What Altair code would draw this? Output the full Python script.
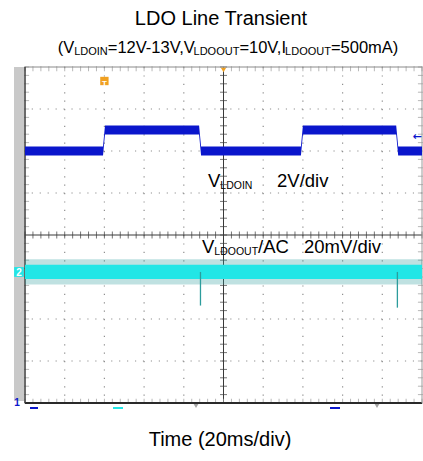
import altair as alt
import pandas as pd

# ---------------- data ----------------
# CH1: LDO input voltage (V) - vertices of the stepped 12 V / 13 V waveform
ch1_time_ms = [-100.0, -60.7, -59.7, -12.3, -11.3, 39.0, 40.0, 87.0, 88.0, 100.0]
ch1_volts = [12.0, 12.0, 13.0, 13.0, 12.0, 12.0, 13.0, 13.0, 12.0, 12.0]
ch1_noise_v = 0.22          # half-width of the noise band on CH1

# CH2: LDO output, AC coupled (mV)
ch2_time_ms = [-100.0, 100.0]
ch2_mv = [0.0, 0.0]
ch2_core_mv = 3.4           # dense part of the noise band
ch2_peak_mv = 6.0           # outer noise peaks
ch2_dip_time_ms = [-11.6, 87.6]
ch2_dip_mv = [-16.0, -17.0]

# scope settings
ch1_v_per_div = 2.0
ch1_offset_div = -4.0
ch2_mv_per_div = 20.0
ch2_offset_div = -0.88
trigger_time_ms = -60.0
trigger_level_v = 12.65

# ---------------- layout ----------------
FONT = "Liberation Sans"
LEFT, TOP, W, H = 25, 67, 397, 336
PAD = {"left": LEFT, "top": TOP, "right": 423 - LEFT - W, "bottom": 461 - TOP - H}

BLUE = "#0a16cc"
CYAN = "#22e6e6"
TEAL = "#2c9c9c"
ORANGE = "#f0a020"
GRID = "#8f8f8f"

xs = alt.Scale(domain=[-100, 100], nice=False, zero=False)
ys = alt.Scale(domain=[-4, 4], nice=False, zero=False)
one = pd.DataFrame({"k": [0]})


def X(f="t"):
    return alt.X(f"{f}:Q", scale=xs, axis=None)


def Y(f="d"):
    return alt.Y(f"{f}:Q", scale=ys, axis=None)


def ch1_div(v):
    return v / ch1_v_per_div + ch1_offset_div


def ch2_div(mv):
    return mv / ch2_mv_per_div + ch2_offset_div


# Liberation Sans advance widths (em) and kerning pairs for the label characters
ADV = {
    "A": .667, "C": .722, "D": .722, "I": .278, "L": .556, "N": .722, "O": .778,
    "T": .611, "U": .722, "V": .667, "a": .556, "d": .556, "e": .556, "i": .222,
    "m": .833, "n": .556, "r": .333, "s": .5, "t": .278, "v": .5, "(": .333,
    ")": .333, "=": .584, "-": .333, ",": .278, "/": .278, " ": .278,
}
KERN = {"V,": -.148, "V-": -.074, "11": -.074}


def tw(s, size):
    w = sum(ADV.get(c, .556) for c in s)
    w += sum(KERN.get(s[i:i + 2], 0) for i in range(len(s) - 1))
    return w * size


def text(s, px, py, size, color="#000000", align="left", font=FONT, weight="normal"):
    """Text placed in page pixel coordinates."""
    return alt.Chart(one).mark_text(
        align=align, baseline="alphabetic", font=font, fontSize=size,
        color=color, fontWeight=weight,
    ).encode(x=alt.value(px - LEFT), y=alt.value(py - TOP), text=alt.value(s))


def rich(parts, px, py, main, sub, center=False, sub_drop=1.5):
    """Runs of normal and subscript text, left aligned or centred on px."""
    widths = [tw(s, sub if is_sub else main) for s, is_sub in parts]
    x = px - sum(widths) / 2 if center else px
    out = []
    for (s, is_sub), w in zip(parts, widths):
        out.append(text(s, x, py + (sub_drop if is_sub else 0), sub if is_sub else main))
        x += w
    return out


def box(x1, y1, x2, y2, color, radius=0):
    return alt.Chart(one).mark_rect(color=color, cornerRadius=radius).encode(
        x=alt.value(x1 - LEFT), x2=alt.value(x2 - LEFT),
        y=alt.value(y1 - TOP), y2=alt.value(y2 - TOP))


def seg(x1, y1, x2, y2, color, width=1.0):
    return alt.Chart(one).mark_rule(color=color, strokeWidth=width).encode(
        x=alt.value(x1 - LEFT), x2=alt.value(x2 - LEFT),
        y=alt.value(y1 - TOP), y2=alt.value(y2 - TOP))


def glyph(shape, px, py, size, color):
    return alt.Chart(one).mark_point(shape=shape, filled=True, size=size, color=color, opacity=1).encode(
        x=alt.value(px - LEFT), y=alt.value(py - TOP))


# ---------------- graticule ----------------
layers = []
layers.append(box(14, 67, 24, 401, "#c9c9c9"))

v_grid = pd.DataFrame({"t": [-80, -60, -40, -20, 20, 40, 60, 80]})
h_grid = pd.DataFrame({"d": [-3, -2, -1, 1, 2, 3]})
layers.append(alt.Chart(v_grid).mark_rule(color=GRID, strokeWidth=1.2, strokeDash=[1.2, 7.2]).encode(x=X()))
layers.append(alt.Chart(h_grid).mark_rule(color=GRID, strokeWidth=1.2, strokeDash=[1.2, 6.74]).encode(y=Y()))

minor_t = pd.DataFrame({"t": [i * 4.0 for i in range(-25, 26)]})
minor_d = pd.DataFrame({"d": [i * 0.2 for i in range(-20, 21)]})
layers.append(alt.Chart(pd.DataFrame({"t": [0]})).mark_rule(color="#3a3a3a", strokeWidth=1).encode(x=X()))
layers.append(alt.Chart(pd.DataFrame({"d": [0]})).mark_rule(color="#3a3a3a", strokeWidth=1).encode(y=Y()))
layers.append(alt.Chart(minor_t.assign(d=0.0)).mark_tick(orient="vertical", size=7, thickness=1, color="#3a3a3a").encode(x=X(), y=Y()))
layers.append(alt.Chart(minor_d.assign(t=0.0)).mark_tick(orient="horizontal", size=7, thickness=1, color="#3a3a3a").encode(x=X(), y=Y()))
# border ticks
layers.append(alt.Chart(minor_t.assign(d=3.96)).mark_tick(orient="vertical", size=5, thickness=1, color="#9a9a9a").encode(x=X(), y=Y()))
layers.append(alt.Chart(minor_t.assign(d=-3.96)).mark_tick(orient="vertical", size=5, thickness=1, color="#9a9a9a").encode(x=X(), y=Y()))
layers.append(alt.Chart(minor_d.assign(t=-99.2)).mark_tick(orient="horizontal", size=5, thickness=1, color="#9a9a9a").encode(x=X(), y=Y()))
layers.append(alt.Chart(minor_d.assign(t=99.2)).mark_tick(orient="horizontal", size=5, thickness=1, color="#9a9a9a").encode(x=X(), y=Y()))
# frame
layers.append(alt.Chart(pd.DataFrame({"d": [4]})).mark_rule(color="#8a8a8a", strokeWidth=1).encode(y=Y()))
layers.append(alt.Chart(pd.DataFrame({"d": [-4]})).mark_rule(color="#2a2a2a", strokeWidth=2).encode(y=Y()))
layers.append(alt.Chart(pd.DataFrame({"t": [-100]})).mark_rule(color="#3a3a3a", strokeWidth=1.5).encode(x=X()))
layers.append(alt.Chart(pd.DataFrame({"t": [100]})).mark_rule(color="#9a9a9a", strokeWidth=1).encode(x=X()))

# ---------------- traces ----------------
ch1 = pd.DataFrame({"t": ch1_time_ms, "v": ch1_volts})
ch1["lo"] = ch1_div(ch1["v"] - ch1_noise_v)
ch1["hi"] = ch1_div(ch1["v"] + ch1_noise_v)
layers.append(alt.Chart(ch1).mark_area(color=BLUE, opacity=1).encode(x=X(), y=Y("lo"), y2="hi:Q"))

ch2 = pd.DataFrame({"t": ch2_time_ms, "mv": ch2_mv})
ch2["olo"] = ch2_div(ch2["mv"] - ch2_peak_mv)
ch2["ohi"] = ch2_div(ch2["mv"] + ch2_peak_mv)
ch2["clo"] = ch2_div(ch2["mv"] - ch2_core_mv)
ch2["chi"] = ch2_div(ch2["mv"] + ch2_core_mv)
layers.append(alt.Chart(ch2).mark_area(color=TEAL, opacity=0.3).encode(x=X(), y=Y("olo"), y2="ohi:Q"))
layers.append(alt.Chart(ch2).mark_area(color=CYAN, opacity=1).encode(x=X(), y=Y("clo"), y2="chi:Q"))

dips = pd.DataFrame({"t": ch2_dip_time_ms, "mv": ch2_dip_mv})
dips["d"] = ch2_div(0.0)
dips["d2"] = ch2_div(dips["mv"])
layers.append(alt.Chart(dips).mark_rule(color=TEAL, strokeWidth=1.3).encode(x=X(), y=Y(), y2="d2:Q"))

# ---------------- scope markers ----------------
trig = pd.DataFrame({"t": [trigger_time_ms]})
layers.append(alt.Chart(trig).mark_point(shape="square", filled=True, size=70, color=ORANGE, opacity=1)
              .encode(x=X(), y=alt.value(81 - TOP)))
layers.append(alt.Chart(trig).mark_text(text="T", font=FONT, fontSize=8, fontWeight="bold", color="#ffffff")
              .encode(x=X(), y=alt.value(84 - TOP)))
layers.append(alt.Chart(pd.DataFrame({"t": [0]})).mark_point(shape="triangle-down", filled=True, size=28, color=ORANGE, opacity=1)
              .encode(x=X(), y=alt.value(70 - TOP)))
lvl = pd.DataFrame({"d": [ch1_div(trigger_level_v)]})
layers.append(alt.Chart(lvl).mark_text(text="←", font="DejaVu Sans", fontSize=11, fontWeight="bold", color=BLUE)
              .encode(x=alt.value(417 - LEFT), y=Y()))

ch2_mark = pd.DataFrame({"d": [ch2_div(0.0)]})
layers.append(alt.Chart(ch2_mark).mark_point(shape="square", filled=True, size=95, color=CYAN, opacity=1)
              .encode(x=alt.value(19 - LEFT), y=Y()))
layers.append(alt.Chart(ch2_mark).mark_text(text="2", font=FONT, fontSize=10, fontWeight="bold", color="#ffffff", dy=1)
              .encode(x=alt.value(19 - LEFT), y=Y()))
ch1_mark = pd.DataFrame({"d": [ch1_offset_div]})
layers.append(alt.Chart(ch1_mark).mark_text(text="1", font=FONT, fontSize=10, fontWeight="bold", color=BLUE)
              .encode(x=alt.value(17 - LEFT), y=Y()))

# small cursor markers under the screen
layers.append(seg(30, 408, 38, 408, BLUE, 2))
layers.append(seg(113, 408, 123, 408, CYAN, 2))
layers.append(seg(330, 408, 340, 408, BLUE, 2))
layers.append(glyph("triangle-down", 196, 406, 22, "#a0a0a0"))
layers.append(glyph("triangle-down", 377, 406, 22, "#a0a0a0"))

# ---------------- labels ----------------
layers.append(text("LDO Line Transient", 221, 25, 20, align="center"))
layers += rich([("(V", False), ("LDOIN", True), ("=12V-13V,V", False), ("LDOOUT", True),
                ("=10V,I", False), ("LDOOUT", True), ("=500mA)", False)],
               228, 53, 16.5, 11, center=True)
layers += rich([("V", False), ("LDOIN", True)], 208, 187, 18.5, 10.5)
layers.append(text("2V/div", 277, 187, 18.5))
layers += rich([("V", False), ("LDOOUT", True), ("/AC", False)], 202, 253, 18.5, 10.5)
layers.append(text("20mV/div", 304, 253, 18.5))
layers.append(text("Time (20ms/div)", 220, 446, 20, align="center"))

chart = alt.layer(*layers).properties(
    width=W, height=H, padding=PAD,
    autosize=alt.AutoSizeParams(type="none"),
    background="#ffffff",
).configure_view(stroke=None)

chart.save("out.html", embed_options={"renderer": "svg", "actions": False})
